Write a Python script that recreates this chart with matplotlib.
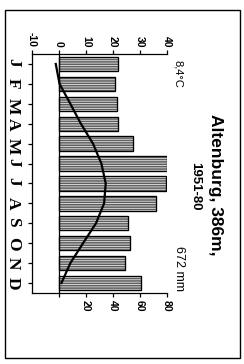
import matplotlib
matplotlib.use("Agg")
import matplotlib.pyplot as plt
from matplotlib.patches import Rectangle
import numpy as np

# climate data, Altenburg 1951-80
months = ["J", "F", "M", "A", "M", "J", "J", "A", "S", "O", "N", "D"]
temp = [-1.2, 0.2, 4.2, 8.1, 12.6, 15.7, 17.3, 16.7, 13.7, 8.9, 4.2, 0.9]
precip = [44, 41.5, 42.7, 44, 54.5, 80, 79, 71.8, 50.8, 52.5, 48.9, 61]
temp_ticks = [-10, 0, 10, 20, 30, 40]
precip_ticks = [0, 20, 40, 60, 80]
precip_labels = ["", "20", "40", "60", "80"]

W, H = 244, 364
plt.rcParams["hatch.linewidth"] = 0.6
fig = plt.figure(figsize=(W / 100, H / 100), dpi=100)

def fx(px):
    return px / W

def fy(py):
    return 1 - py / H

# rotated climate diagram: months down the left, temperature on top
ax = fig.add_axes([fx(32), fy(293), fx(135), 239 / H])
ax2 = ax.twiny()
ax.set_zorder(ax2.get_zorder() + 1)
ax.patch.set_visible(False)

y = np.arange(12)

# precipitation bars
ax2.barh(y, precip, height=0.72, left=0, color="#5e5e5e", edgecolor="black", lw=0.8)
ax2.barh(y, precip, height=0.72, left=0, facecolor="none", edgecolor="#e8e8e8",
         hatch="-------", lw=0)
ax2.barh(y, precip, height=0.72, left=0, facecolor="none", edgecolor="black", lw=0.9)
ax2.set_xlim(-20, 80)
ax2.set_xticks(precip_ticks)
ax2.set_xticklabels(precip_labels, rotation=-90, fontsize=7.5, fontweight="bold",
                    fontfamily="Liberation Sans")
ax2.xaxis.tick_bottom()
ax2.tick_params(axis="x", direction="out", length=3, width=0.9, pad=2)
for s in ax2.spines.values():
    s.set_visible(False)

# temperature curve
ax.plot(temp, y, color="black", lw=1.6)
ax.axvline(0, color="black", lw=0.9)
ax.set_xlim(-10, 40)
ax.set_ylim(11.5, -0.5)
ax.set_xticks(temp_ticks)
ax.set_xticklabels([str(t) for t in temp_ticks], rotation=-90, fontsize=7.5,
                   fontweight="bold", fontfamily="Liberation Sans")
ax.xaxis.tick_top()
ax.tick_params(axis="x", direction="out", length=3, width=0.9, pad=2)
ax.set_yticks(y)
ax.set_yticklabels(months, rotation=-90, fontsize=12.5, fontweight="bold",
                   fontfamily="Liberation Serif")
ax.tick_params(axis="y", direction="out", length=3, width=0.9, pad=5)
ax.spines["right"].set_visible(False)
for k in ["left", "top", "bottom"]:
    ax.spines[k].set_linewidth(0.9)

# texts
fig.text(fx(178), fy(74), "8,4°C", rotation=-90, ha="center", va="center",
         fontsize=8, fontfamily="Liberation Sans")
fig.text(fx(215), fy(185), "Altenburg, 386m,", rotation=-90, ha="center", va="center",
         fontsize=12.5, fontweight="bold", fontfamily="Liberation Sans")
fig.text(fx(195), fy(186), "1951-80", rotation=-90, ha="center", va="center",
         fontsize=9.5, fontweight="bold", fontfamily="Liberation Sans")
fig.text(fx(179), fy(268), "672 mm", rotation=-90, ha="center", va="center",
         fontsize=9, fontfamily="Liberation Sans")

# outer frame
fig.patches.append(Rectangle((fx(5), fy(358)), fx(235), 348.5 / H, transform=fig.transFigure,
                             fill=False, lw=1.0, edgecolor="black"))

fig.savefig("out.png", dpi=100)
